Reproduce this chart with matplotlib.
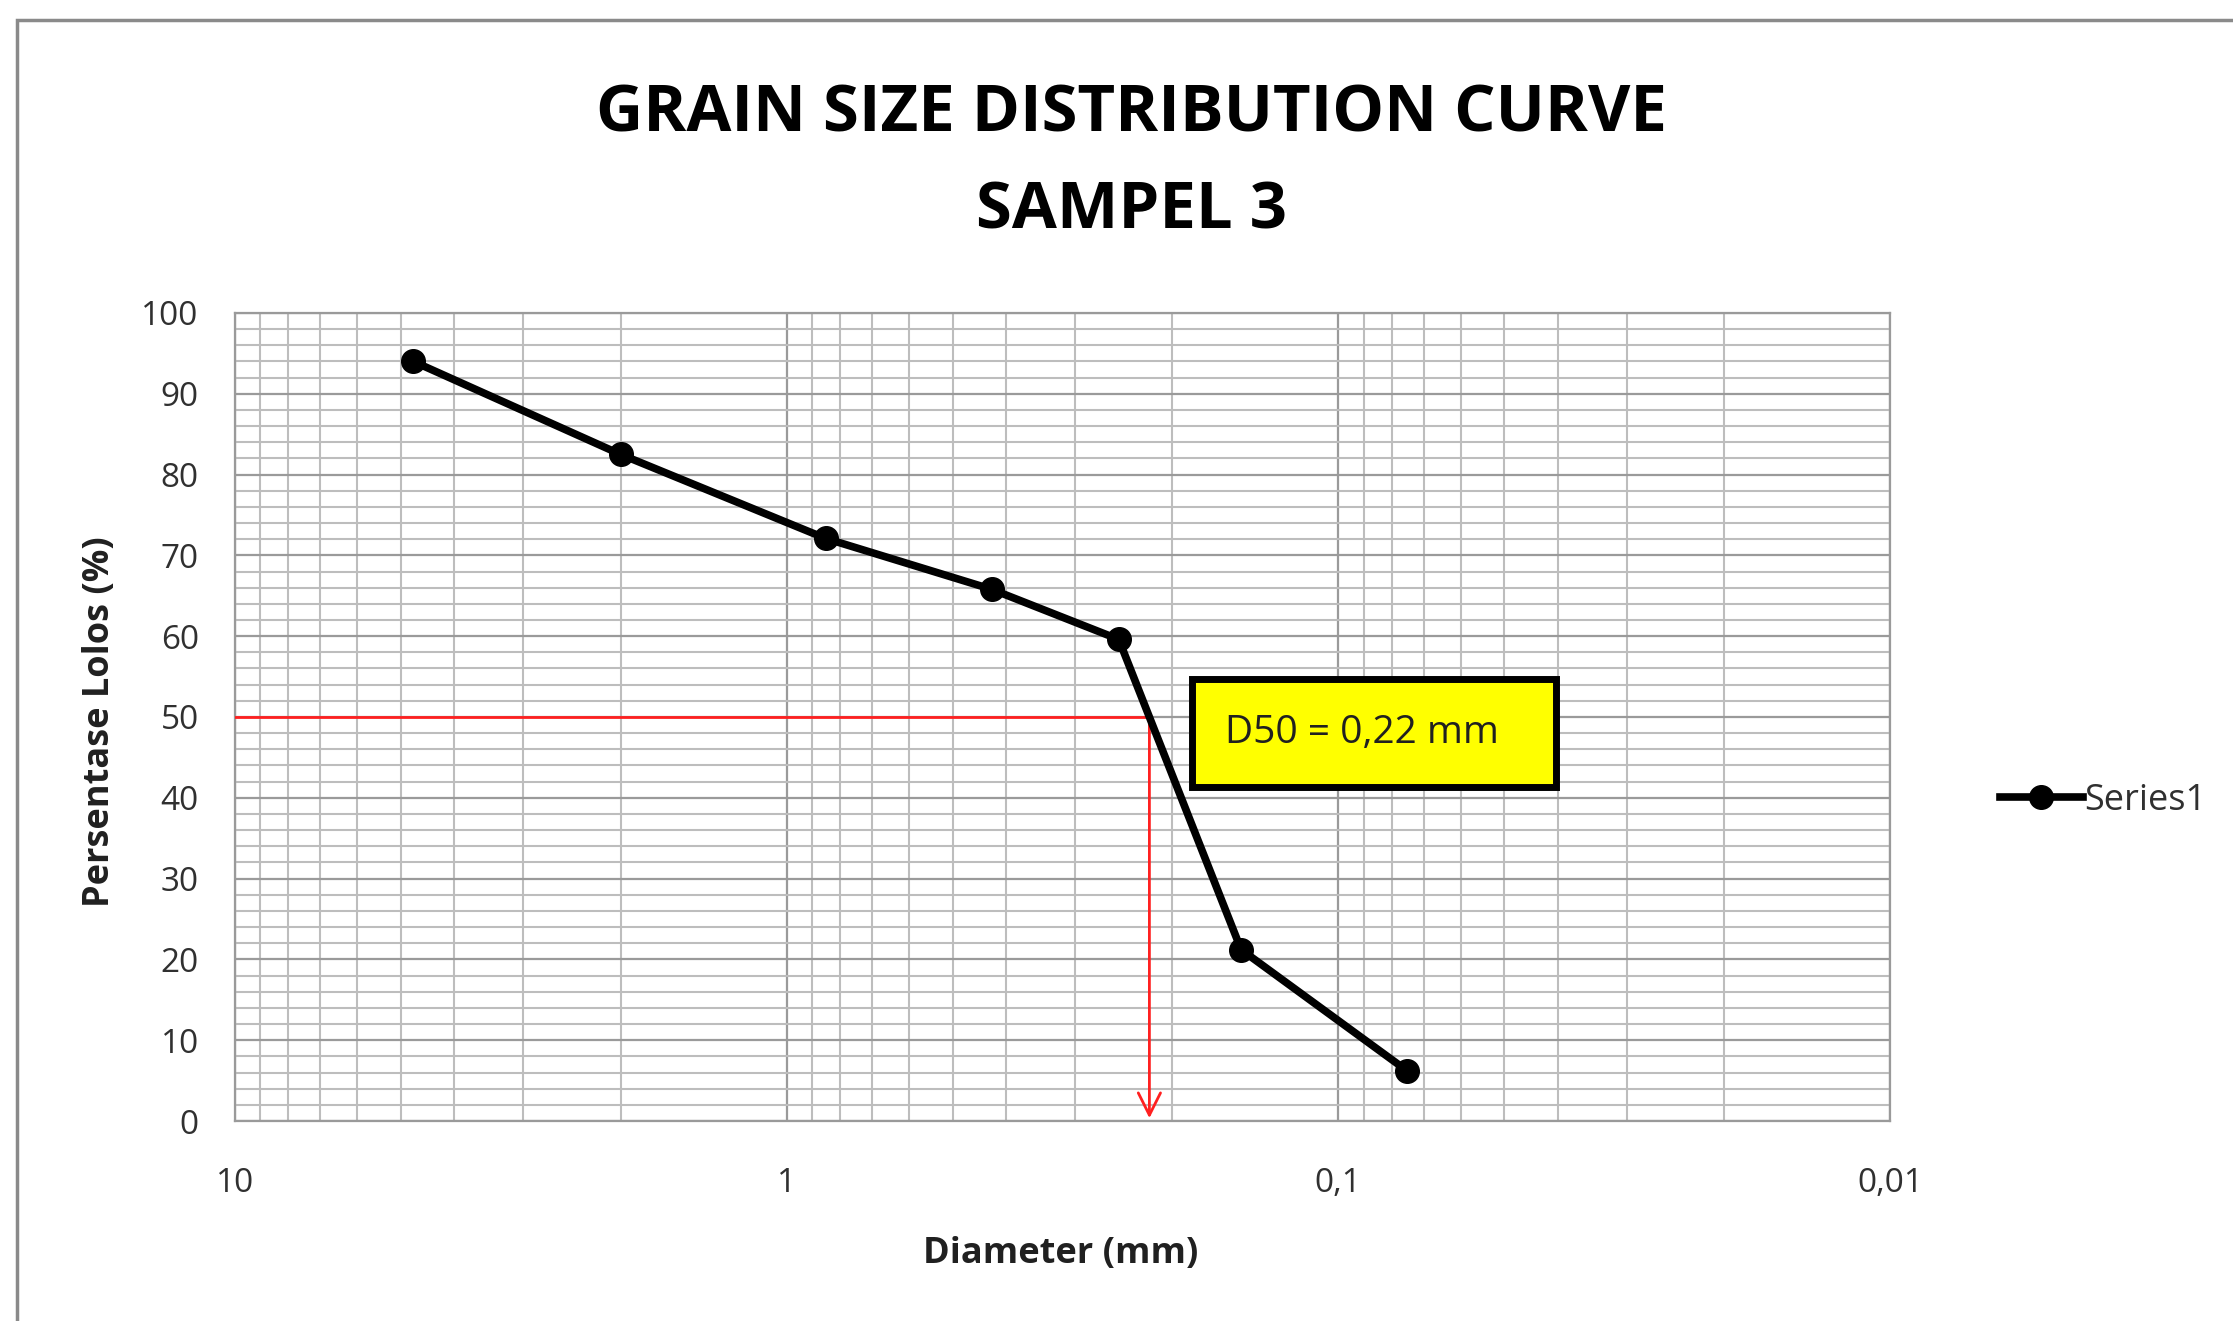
import matplotlib.pyplot as plt
from matplotlib.patches import Rectangle
from matplotlib.ticker import FixedLocator, LogLocator, MultipleLocator, NullFormatter

# sieve data (diameter in mm, percent passing)
diameter = [4.75, 2.0, 0.85, 0.425, 0.25, 0.15, 0.075]
passing = [94.0, 82.5, 72.1, 65.8, 59.6, 21.2, 6.2]

d50 = 0.22
d50_label = "D50 = 0,22 mm"
x_ticks = [10, 1, 0.1, 0.01]
x_tick_labels = ["10", "1", "0,1", "0,01"]
y_ticks = list(range(0, 101, 10))

plt.rcParams['font.family'] = ['Open Sans', 'DejaVu Sans']

fig = plt.figure(figsize=(22.33, 13.21), dpi=100)
ax = fig.add_axes([0.1052, 0.1514, 0.7412, 0.6117])

# outer chart border (top and left visible)
fig.patches.append(Rectangle((0.0076, -0.05), 1.1, 1.035, transform=fig.transFigure,
                             fill=False, edgecolor='#8a8a8a', linewidth=2.5))

ax.set_xscale('log')
ax.set_xlim(10, 0.01)
ax.set_ylim(0, 100)

ax.xaxis.set_major_locator(FixedLocator(x_ticks))
ax.set_xticklabels(x_tick_labels)
ax.xaxis.set_minor_locator(LogLocator(base=10, subs=range(2, 10)))
ax.xaxis.set_minor_formatter(NullFormatter())
ax.set_yticks(y_ticks)
ax.yaxis.set_minor_locator(MultipleLocator(2))

ax.grid(which='major', color='#9a9a9a', linewidth=1.6)
ax.grid(which='minor', color='#bdbdbd', linewidth=1.5)
ax.set_axisbelow(True)
for s in ax.spines.values():
    s.set_color('#9a9a9a')
    s.set_linewidth(1.6)
ax.tick_params(which='both', length=0)
ax.tick_params(axis='x', labelsize=24, colors='#303030', pad=33)
ax.tick_params(axis='y', labelsize=24, colors='#303030', pad=26)

# D50 guide lines
ax.plot([10, d50], [50, 50], color='#ff2020', linewidth=2, zorder=3)
ax.annotate('', xy=(d50, 0), xytext=(d50, 50),
            arrowprops=dict(arrowstyle='->', color='#ff2020', lw=2,
                            mutation_scale=40), zorder=3)

ax.plot(diameter, passing, color='black', linewidth=5.5, marker='o',
        markersize=17, label='Series1', zorder=4)

# D50 label box
ax.add_patch(Rectangle((0.578, 0.413), 0.22, 0.134, transform=ax.transAxes,
                       facecolor='#ffff00', edgecolor='black', linewidth=5, zorder=5))
ax.text(0.598, 0.48, d50_label, transform=ax.transAxes, fontsize=28,
        va='center', ha='left', color='#202020', zorder=6)

ax.set_xlabel('Diameter (mm)', fontsize=26, fontweight='bold', color='#202020')
ax.set_ylabel('Persentase Lolos (%)', fontsize=26, fontweight='bold', color='#202020')
ax.xaxis.set_label_coords(0.499, -0.142)
ax.yaxis.set_label_coords(-0.0705, 0.494)

fig.text(0.5065, 0.9127, 'GRAIN SIZE DISTRIBUTION CURVE', ha='center', va='center',
         fontsize=47, fontweight='bold')
fig.text(0.5065, 0.8397, 'SAMPEL 3', ha='center', va='center',
         fontsize=47, fontweight='bold')

fig.legend(loc='center left', bbox_to_anchor=(0.881, 0.394), frameon=False,
           fontsize=26, handlelength=2.3, numpoints=1, handletextpad=0.05,
           labelcolor='#303030')

fig.savefig('out.png', dpi=100)
